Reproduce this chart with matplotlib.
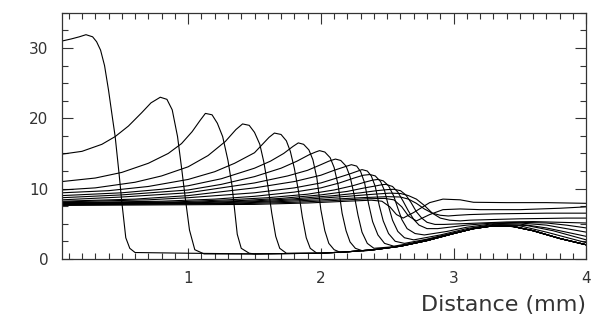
import numpy as np
import matplotlib
matplotlib.use("Agg")
import matplotlib.pyplot as plt
from matplotlib.ticker import MultipleLocator

# profile ahead of the front (shared by the early curves)
base_x = [0.6, 1.0, 1.5, 2.0, 2.2, 2.4, 2.6, 2.8, 3.0, 3.15, 3.3, 3.45, 3.6, 3.8, 4.0]
base_y = [0.9, 0.8, 0.7, 0.8, 1.0, 1.3, 1.8, 2.6, 3.6, 4.3, 4.7, 4.6, 4.0, 2.9, 2.0]

# early curves: left part + front, then they fall back on the base profile
c1_x = [0.05, 0.12, 0.18, 0.23, 0.28, 0.31, 0.34, 0.37, 0.40, 0.43, 0.45, 0.48, 0.50, 0.53, 0.56, 0.60]
c1_y = [31.0, 31.3, 31.6, 31.9, 31.6, 30.9, 29.7, 27.5, 24.0, 20.0, 17.4, 12.0, 8.1, 3.0, 1.5, 0.9]

c2_x = [0.05, 0.2, 0.35, 0.45, 0.55, 0.65, 0.72, 0.79, 0.84, 0.88, 0.92, 0.95, 0.98, 1.01, 1.05, 1.12]
c2_y = [14.9, 15.3, 16.3, 17.4, 18.9, 20.8, 22.2, 23.0, 22.7, 21.2, 17.4, 13.0, 8.4, 4.1, 1.3, 0.7]

c3_x = [0.05, 0.3, 0.5, 0.7, 0.85, 0.95, 1.03, 1.09, 1.13, 1.18, 1.22, 1.26, 1.30, 1.33, 1.35, 1.37, 1.40, 1.46]
c3_y = [11.0, 11.5, 12.3, 13.6, 15.0, 16.4, 18.1, 19.7, 20.7, 20.5, 19.3, 17.4, 14.0, 10.5, 7.0, 3.5, 1.5, 0.8]

c4_x = [0.05, 0.3, 0.6, 0.8, 1.0, 1.15, 1.28, 1.36, 1.41, 1.46, 1.50, 1.54, 1.57, 1.60, 1.63, 1.66, 1.69, 1.74]
c4_y = [9.8, 10.1, 10.9, 11.8, 13.1, 14.7, 16.7, 18.4, 19.2, 19.0, 18.0, 16.3, 13.8, 10.5, 6.5, 3.2, 1.5, 0.8]

c5_x = [0.05, 0.4, 0.7, 1.0, 1.2, 1.35, 1.5, 1.56, 1.61, 1.65, 1.70, 1.74, 1.77, 1.80, 1.83, 1.86, 1.89, 1.92, 1.97]
c5_y = [9.4, 9.7, 10.3, 11.3, 12.4, 13.6, 15.1, 16.3, 17.3, 17.9, 17.7, 16.8, 15.3, 12.9, 9.8, 6.0, 3.0, 1.5, 0.8]

c6_x = [0.05, 0.5, 0.8, 1.0, 1.25, 1.5, 1.62, 1.72, 1.79, 1.83, 1.87, 1.91, 1.94, 1.97, 2.0, 2.03, 2.06, 2.10, 2.15]
c6_y = [9.0, 9.4, 9.9, 10.4, 11.4, 12.9, 13.9, 15.0, 16.0, 16.5, 16.3, 15.5, 14.1, 11.5, 7.0, 4.0, 2.2, 1.3, 0.9]

c7_x = [0.05, 0.5, 1.0, 1.25, 1.5, 1.7, 1.82, 1.91, 1.96, 1.99, 2.03, 2.07, 2.10, 2.13, 2.16, 2.19, 2.22, 2.26, 2.32]
c7_y = [8.7, 9.1, 9.8, 10.6, 11.7, 12.9, 13.9, 14.8, 15.2, 15.4, 15.2, 14.4, 13.0, 10.5, 6.5, 4.0, 2.4, 1.5, 1.1]

c8_x = [0.05, 0.5, 1.0, 1.5, 1.75, 1.9, 2.0, 2.06, 2.11, 2.15, 2.19, 2.22, 2.25, 2.28, 2.31, 2.35, 2.40]
c8_y = [8.4, 8.8, 9.4, 10.8, 11.8, 12.6, 13.4, 13.9, 14.2, 14.0, 13.2, 11.7, 9.2, 6.2, 3.8, 2.2, 1.5]

# later curves carry their own tail to the right edge
c9_x = [0.05, 0.6, 1.0, 1.5, 1.8, 2.0, 2.1, 2.18, 2.23, 2.27, 2.30, 2.33, 2.36, 2.39, 2.43, 2.48, 2.55,
        2.7, 2.9, 3.1, 3.3, 3.5, 3.7, 4.0]
c9_y = [8.2, 8.5, 9.0, 10.1, 11.0, 11.9, 12.6, 13.1, 13.4, 13.2, 12.4, 10.8, 7.8, 5.3, 3.4, 2.2, 1.8,
        2.3, 3.2, 4.1, 4.75, 4.7, 3.8, 2.3]

c10_x = [0.05, 0.7, 1.0, 1.5, 1.8, 2.0, 2.12, 2.22, 2.28, 2.31, 2.35, 2.38, 2.41, 2.44, 2.47, 2.51, 2.56, 2.63,
         2.8, 3.0, 3.2, 3.35, 3.55, 3.75, 4.0]
c10_y = [8.1, 8.4, 8.7, 9.4, 10.1, 10.8, 11.5, 12.1, 12.5, 12.7, 12.5, 11.8, 10.3, 7.6, 5.4, 3.6, 2.5, 2.2,
         2.8, 3.7, 4.5, 4.85, 4.75, 4.0, 2.7]

c11_x = [0.05, 0.8, 1.2, 1.5, 1.8, 2.0, 2.14, 2.25, 2.32, 2.37, 2.41, 2.45, 2.48, 2.51, 2.54, 2.58, 2.63, 2.70,
         2.9, 3.1, 3.3, 3.5, 3.7, 3.85, 4.0]
c11_y = [8.0, 8.2, 8.5, 8.9, 9.5, 10.1, 10.8, 11.5, 11.9, 12.0, 11.8, 11.0, 9.7, 7.5, 5.5, 3.9, 3.0, 2.7,
         3.4, 4.3, 4.9, 4.95, 4.4, 3.8, 3.2]

c12_x = [0.05, 0.9, 1.3, 1.6, 1.9, 2.1, 2.24, 2.33, 2.39, 2.43, 2.47, 2.51, 2.55, 2.58, 2.61, 2.65, 2.71, 2.78,
         2.95, 3.1, 3.3, 3.5, 3.7, 3.85, 4.0]
c12_y = [7.95, 8.1, 8.4, 8.7, 9.2, 9.8, 10.4, 10.9, 11.2, 11.3, 11.1, 10.4, 8.9, 7.2, 5.6, 4.3, 3.6, 3.4,
         3.9, 4.5, 5.0, 5.1, 4.8, 4.3, 3.8]

c13_x = [0.05, 1.0, 1.4, 1.7, 2.0, 2.2, 2.33, 2.42, 2.46, 2.49, 2.54, 2.58, 2.62, 2.66, 2.70, 2.74, 2.80, 2.88,
         3.1, 3.3, 3.5, 3.7, 3.85, 4.0]
c13_y = [7.9, 8.05, 8.3, 8.6, 9.1, 9.6, 10.1, 10.4, 10.55, 10.6, 10.3, 9.5, 8.2, 6.8, 5.6, 4.8, 4.3, 4.3,
         4.8, 5.1, 5.2, 5.1, 4.8, 4.4]

c14_x = [0.05, 1.1, 1.5, 1.8, 2.1, 2.3, 2.42, 2.5, 2.55, 2.60, 2.64, 2.68, 2.72, 2.76, 2.80, 2.86, 2.93, 3.0,
         3.2, 3.4, 3.6, 3.8, 4.0]
c14_y = [7.85, 8.0, 8.25, 8.55, 9.0, 9.4, 9.7, 9.85, 9.9, 9.7, 9.1, 8.0, 6.7, 5.8, 5.2, 4.9, 4.9, 4.95,
         5.1, 5.25, 5.3, 5.2, 5.1]

c15_x = [0.05, 1.2, 1.6, 1.9, 2.2, 2.4, 2.52, 2.6, 2.66, 2.72, 2.78, 2.84, 2.90, 2.97, 3.05, 3.12, 3.3, 3.5, 3.7, 3.85, 4.0]
c15_y = [7.8, 7.95, 8.2, 8.5, 8.9, 9.2, 9.35, 9.3, 9.0, 8.5, 7.6, 6.5, 5.8, 5.5, 5.4, 5.5, 5.6, 5.7, 5.75, 5.8, 5.8]

c16_x = [0.05, 1.3, 1.7, 2.0, 2.3, 2.5, 2.6, 2.66, 2.72, 2.78, 2.84, 2.90, 2.96, 3.03, 3.12, 3.3, 3.5, 3.7, 4.0]
c16_y = [7.75, 7.9, 8.15, 8.4, 8.7, 8.85, 8.8, 8.5, 7.9, 7.1, 6.5, 6.2, 6.1, 6.2, 6.3, 6.4, 6.45, 6.5, 6.5]

c17_x = [0.05, 1.4, 1.8, 2.1, 2.35, 2.48, 2.55, 2.61, 2.66, 2.72, 2.82, 2.92, 3.05, 3.2, 3.5, 3.8, 4.0]
c17_y = [7.7, 7.85, 8.05, 8.3, 8.55, 8.6, 8.4, 7.4, 6.1, 5.4, 6.3, 7.0, 7.1, 7.0, 7.0, 7.2, 7.4]

c18_x = [0.05, 1.5, 1.9, 2.2, 2.38, 2.46, 2.52, 2.57, 2.62, 2.7, 2.82, 2.92, 3.05, 3.15, 3.4, 3.7, 4.0]
c18_y = [7.6, 7.75, 7.95, 8.2, 8.35, 8.2, 7.4, 6.3, 5.8, 6.6, 8.0, 8.5, 8.4, 8.05, 8.0, 8.0, 7.9]

early = [(c1_x, c1_y), (c2_x, c2_y), (c3_x, c3_y), (c4_x, c4_y),
         (c5_x, c5_y), (c6_x, c6_y), (c7_x, c7_y), (c8_x, c8_y)]
late = [(c9_x, c9_y), (c10_x, c10_y), (c11_x, c11_y), (c12_x, c12_y), (c13_x, c13_y),
        (c14_x, c14_y), (c15_x, c15_y), (c16_x, c16_y), (c17_x, c17_y), (c18_x, c18_y)]

fig = plt.figure(figsize=(5.97, 3.31), dpi=100)
ax = fig.add_axes([0.104, 0.218, 0.878, 0.743])

for cx, cy in early:
    # append the base profile beyond the foot of the front
    tail = [(bx, by) for bx, by in zip(base_x, base_y) if bx > cx[-1]]
    xs = list(cx) + [t[0] for t in tail]
    ys = list(cy) + [t[1] for t in tail]
    ax.plot(xs, ys, color='black', lw=0.8)

for cx, cy in late:
    ax.plot(cx, cy, color='black', lw=0.8)

ax.set_xlim(0.05, 4)
ax.set_ylim(0, 35)
ax.xaxis.set_major_locator(MultipleLocator(1))
ax.xaxis.set_minor_locator(MultipleLocator(0.1))
ax.yaxis.set_major_locator(MultipleLocator(10))
ax.yaxis.set_minor_locator(MultipleLocator(2.5))
ax.tick_params(which='both', direction='in', top=True, right=True, colors='#333333',
               labelsize=11, width=0.8)
ax.tick_params(which='major', length=8, pad=9)
ax.tick_params(which='minor', length=4)
ax.tick_params(axis='y', pad=10)
for s in ax.spines.values():
    s.set_linewidth(0.9)
    s.set_color('#333333')

ax.set_xlabel('Distance (mm)', loc='right', fontsize=16, color='#333333', labelpad=6)

plt.savefig('out.png', dpi=100)
